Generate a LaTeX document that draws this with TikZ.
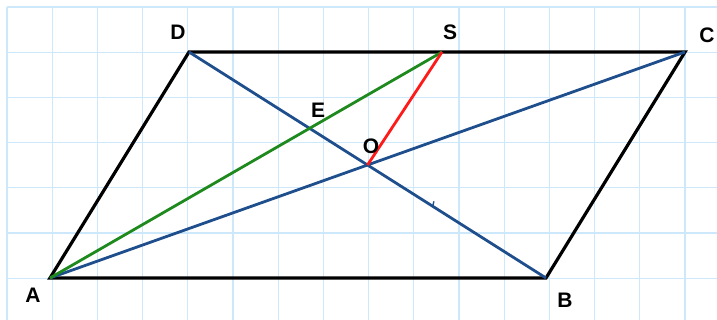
\documentclass[tikz,border=0pt]{standalone}
\usepackage{fontspec}
\setmainfont{Liberation Sans}
\usetikzlibrary{calc}
\definecolor{gridline}{HTML}{CDE8FB}
\definecolor{diag}{HTML}{1F4E8C}
\definecolor{median}{HTML}{1E8A1E}
\definecolor{red}{HTML}{FF1A1A}
\begin{document}
\begin{tikzpicture}[
  x=1pt, y=-1pt,
  font=\bfseries\fontsize{21}{24}\selectfont,
  paper/.style={draw=gridline, line width=1.3pt},
  side/.style={draw=black, line width=3.2pt},
  diagonal/.style={draw=diag, line width=2.8pt},
  median/.style={draw=median, line width=2.8pt},
  segment/.style={draw=red, line width=2.8pt},
  point/.style={inner sep=0pt}
]
  \useasboundingbox (0,0) rectangle (717,320);
  \foreach \k in {0,...,15}
    \draw[paper] ({7+45.2*\k},7) -- ({7+45.2*\k},320);
  \foreach \k in {0,...,6}
    \draw[paper] (7,{7+45.2*\k}) -- (717,{7+45.2*\k});

  \coordinate (A) at (50,278);
  \coordinate (B) at (546,278);
  \coordinate (C) at (685,52);
  \coordinate (D) at (189,52);
  \coordinate (S) at (442,52);
  \coordinate (O) at ($(A)!0.5!(C)$);
  \coordinate (E) at (intersection of A--S and D--B);
  \coordinate (tick) at ($(D)!0.683!(B)$);

  \draw[side] (A) -- (B) -- (C) -- (D) -- cycle;
  \draw[diagonal] (A) -- (C);
  \draw[diagonal] (D) -- (B);
  \draw[diagonal, line width=1.4pt] (tick) -- ++(1,-5);
  \draw[median] (A) -- (S);
  \draw[segment] (O) -- (S);

  \node[point] (lblA) at (33,295) {A};
  \node[point] (lblB) at (565,300) {B};
  \node[point] (lblC) at (707,35) {C};
  \node[point] (lblD) at (178,32) {D};
  \node[point] (lblS) at (450,32) {S};
  \node[point] (lblE) at (318,110) {E};
  \node[point] (lblO) at (371,146) {O};
\end{tikzpicture}
\end{document}
